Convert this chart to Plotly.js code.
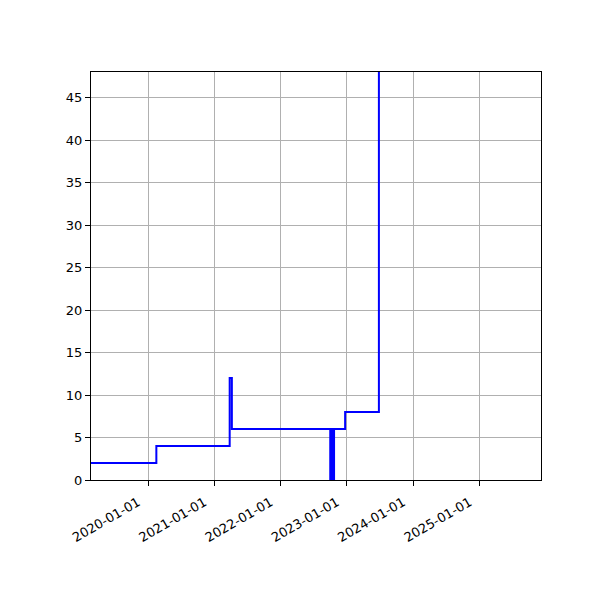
<!DOCTYPE html>
<html>
<head>
<meta charset="utf-8">
<script src="https://cdn.plot.ly/plotly-3.0.1.min.js"></script>
<style>
  html, body { margin: 0; padding: 0; background: #fff; }
  #chart { width: 600px; height: 600px; }
</style>
</head>
<body>
<div id="chart"></div>
<script>
// step series (value holds until the next date)
const fechas = [
  '2019-01-01', '2020-02-16', '2021-03-26', '2021-04-07',
  '2022-10-01', '2022-10-04', '2022-10-07', '2022-10-10',
  '2022-10-13', '2022-10-16', '2022-10-19', '2022-10-22',
  '2022-12-22', '2023-06-26'
];
const valores = [
  2, 4, 12, 6,
  0, 6, 0, 6,
  0, 6, 0, 6,
  8, 100
];

const xTicks = ['2020-01-01', '2021-01-01', '2022-01-01', '2023-01-01', '2024-01-01', '2025-01-01'];
const xRango = ['2019-02-21', '2025-12-05'];
const yRango = [0, 48];

const traza = {
  type: 'scatter',
  mode: 'lines',
  x: fechas,
  y: valores,
  line: { shape: 'hv', color: '#0000ff', width: 2 },
  hoverinfo: 'skip',
};

const ejeComun = {
  showline: true,
  linecolor: '#000',
  linewidth: 1,
  mirror: true,
  ticks: 'outside',
  ticklen: 5,
  tickwidth: 1,
  tickcolor: '#000',
  showgrid: true,
  gridcolor: '#b0b0b0',
  gridwidth: 1,
  zeroline: false,
  tickfont: { family: 'DejaVu Sans', size: 13, color: '#000' },
};

const layout = {
  width: 600,
  height: 600,
  margin: { l: 91, r: 59, t: 72, b: 120 },
  showlegend: false,
  paper_bgcolor: '#fff',
  plot_bgcolor: '#fff',
  xaxis: Object.assign({}, ejeComun, {
    type: 'date',
    range: xRango,
    tickmode: 'array',
    tickvals: xTicks,
    ticktext: xTicks,
    tickangle: -30,
    ticklabelshift: -10,
    ticklabelstandoff: 4,
  }),
  yaxis: Object.assign({}, ejeComun, {
    range: yRango,
    tickmode: 'linear',
    tick0: 0,
    dtick: 5,
  }),
};

Plotly.newPlot('chart', [traza], layout, { displayModeBar: false, staticPlot: true });
</script>
</body>
</html>
